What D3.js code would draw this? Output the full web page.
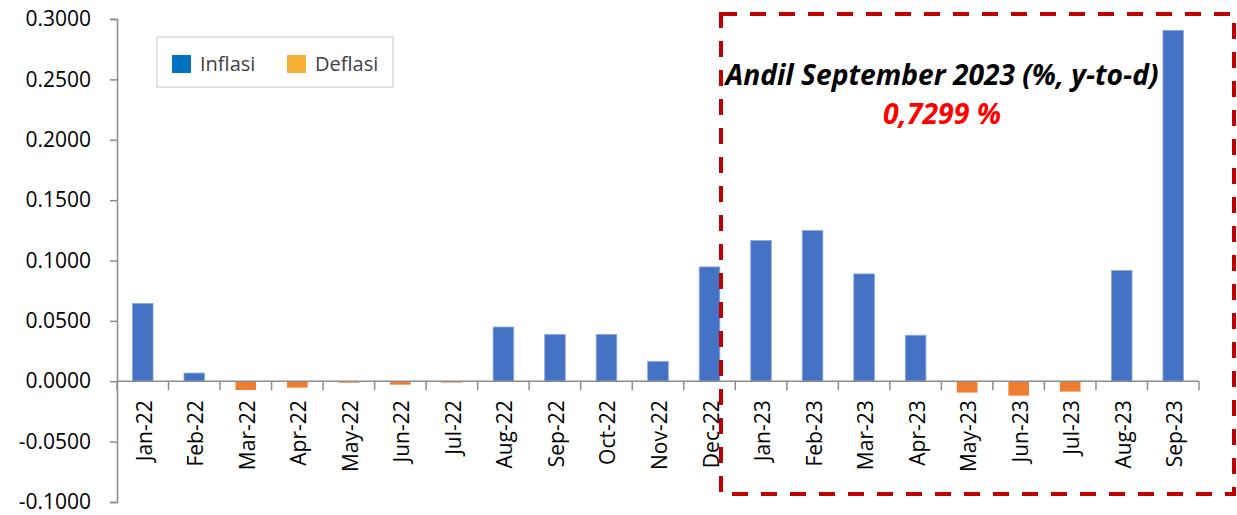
<!DOCTYPE html>
<html>
<head>
<meta charset="utf-8">
<script src="https://cdn.jsdelivr.net/npm/d3@7"></script>
<style>
  body { margin: 0; background: #fff; }
  svg text { font-family: "Open Sans", "Noto Sans", sans-serif; }
</style>
</head>
<body>
<script>
// data
var months = ['Jan-22','Feb-22','Mar-22','Apr-22','May-22','Jun-22','Jul-22','Aug-22','Sep-22','Oct-22','Nov-22','Dec-22',
              'Jan-23','Feb-23','Mar-23','Apr-23','May-23','Jun-23','Jul-23','Aug-23','Sep-23'];
var inflasi = [0.0645, 0.0068, null, null, null, null, null, 0.0449, 0.0388, 0.0388, 0.0165, 0.0947,
               0.1166, 0.1248, 0.0889, 0.0381, null, null, null, 0.0917, 0.2906];
var deflasi = [null, null, -0.0072, -0.0053, -0.0012, -0.0028, -0.0011, null, null, null, null, null,
               null, null, null, null, -0.0094, -0.0119, -0.0086, null, null];
var yTicks = [-0.1, -0.05, 0, 0.05, 0.1, 0.15, 0.2, 0.25, 0.3];
var seriesNames = ['Inflasi', 'Deflasi'];
var annoTitle = 'Andil September 2023 (%, y-to-d)';
var annoValue = '0,7299 %';

var W = 1237, H = 515;
var margin = {top: 19, right: 38, bottom: 13, left: 117};

var svg = d3.select('body').append('svg')
  .attr('width', W)
  .attr('height', H);

var x = d3.scaleBand()
  .domain(months)
  .range([margin.left, W - margin.right]);
var y = d3.scaleLinear()
  .domain([-0.1, 0.3])
  .range([H - margin.bottom, margin.top]);

var barW = x.step() * 0.4;
var axisColor = '#8c8c8c';

//bars
var rows = months.map(function (m, i) {
  return {m: m, inf: inflasi[i], def: deflasi[i]};
});
svg.append('g').selectAll('rect.inf')
  .data(rows.filter(function (d) { return d.inf != null; }))
  .enter().append('rect')
  .attr('x', d => x(d.m) + (x.step() - barW) / 2)
  .attr('width', barW)
  .attr('y', d => y(d.inf))
  .attr('height', d => y(0) - y(d.inf))
  .attr('fill', '#4472C4')
  .attr('stroke', '#8eaadb')
  .attr('stroke-width', 0.8);
svg.append('g').selectAll('rect.def')
  .data(rows.filter(function (d) { return d.def != null; }))
  .enter().append('rect')
  .attr('x', d => x(d.m) + (x.step() - barW) / 2)
  .attr('width', barW)
  .attr('y', y(0))
  .attr('height', d => y(d.def) - y(0))
  .attr('fill', '#ED7D31');

//y axis
var yAxis = d3.axisLeft(y)
  .tickValues(yTicks)
  .tickFormat(d3.format('.4f'))
  .tickSize(7)
  .tickPadding(19);
var gy = svg.append('g')
  .attr('transform', 'translate(' + margin.left + ',0)')
  .call(yAxis);
gy.select('.domain').attr('stroke', axisColor).attr('stroke-width', 1.5);
gy.selectAll('.tick line').attr('stroke', axisColor).attr('stroke-width', 1.5);
gy.selectAll('.tick text')
  .attr('fill', '#000')
  .style('font-size', '21px')
  .text(function (d) { return d3.format('.4f')(d).replace('−', '-'); });

//x axis line at zero with ticks at band edges
var gx = svg.append('g');
gx.append('line')
  .attr('x1', x.range()[0]).attr('x2', x.range()[1])
  .attr('y1', y(0)).attr('y2', y(0))
  .attr('stroke', axisColor).attr('stroke-width', 1.5);
var edges = months.map(m => x(m)).concat([x.range()[1]]);
gx.selectAll('line.tk')
  .data(edges)
  .enter().append('line')
  .attr('x1', d => d).attr('x2', d => d)
  .attr('y1', y(0)).attr('y2', y(0) + 9)
  .attr('stroke', axisColor).attr('stroke-width', 1.5);
gx.selectAll('text')
  .data(months)
  .enter().append('text')
  .attr('transform', d => 'translate(' + (x(d) + x.step() / 2 + 9) + ',' + (y(0) + 19) + ') rotate(-90)')
  .attr('text-anchor', 'end')
  .style('font-size', '21px')
  .attr('fill', '#000')
  .text(d => d);

//legend
var legend = svg.append('g').attr('transform', 'translate(157,37)');
legend.append('rect')
  .attr('width', 236).attr('height', 50)
  .attr('fill', '#fff')
  .attr('stroke', '#d9d9d9').attr('stroke-width', 1.5);
var legendColors = ['#0070C0', '#F7B13A'];
var lg = legend.selectAll('g')
  .data(seriesNames)
  .enter().append('g')
  .attr('transform', (d, i) => 'translate(' + (15 + i * 115) + ',18)');
lg.append('rect')
  .attr('width', 19).attr('height', 18)
  .attr('fill', (d, i) => legendColors[i]);
lg.append('text')
  .attr('x', 28).attr('y', 16)
  .style('font-size', '20px')
  .attr('fill', '#404040')
  .text(d => d);

//annotation box
svg.append('rect')
  .attr('x', 721).attr('y', 14)
  .attr('width', 513).attr('height', 480)
  .attr('fill', 'none')
  .attr('stroke', '#C00000')
  .attr('stroke-width', 4)
  .attr('stroke-dasharray', '16,13');

// fit the annotation lines to the widths seen in the picture
function fitText(t, target) {
  var w = t.node().getComputedTextLength();
  t.style('font-size', (26 * target / w).toFixed(1) + 'px');
}
var t1 = svg.append('text')
  .attr('x', 942).attr('y', 85)
  .attr('text-anchor', 'middle')
  .style('font-size', '26px')
  .style('font-weight', 'bold')
  .style('font-style', 'italic')
  .attr('fill', '#000')
  .text(annoTitle);
fitText(t1, 433);
var t2 = svg.append('text')
  .attr('x', 942).attr('y', 124)
  .attr('text-anchor', 'middle')
  .style('font-size', '26px')
  .style('font-weight', 'bold')
  .style('font-style', 'italic')
  .attr('fill', '#FF0000')
  .text(annoValue);
fitText(t2, 118);
</script>
</body>
</html>
